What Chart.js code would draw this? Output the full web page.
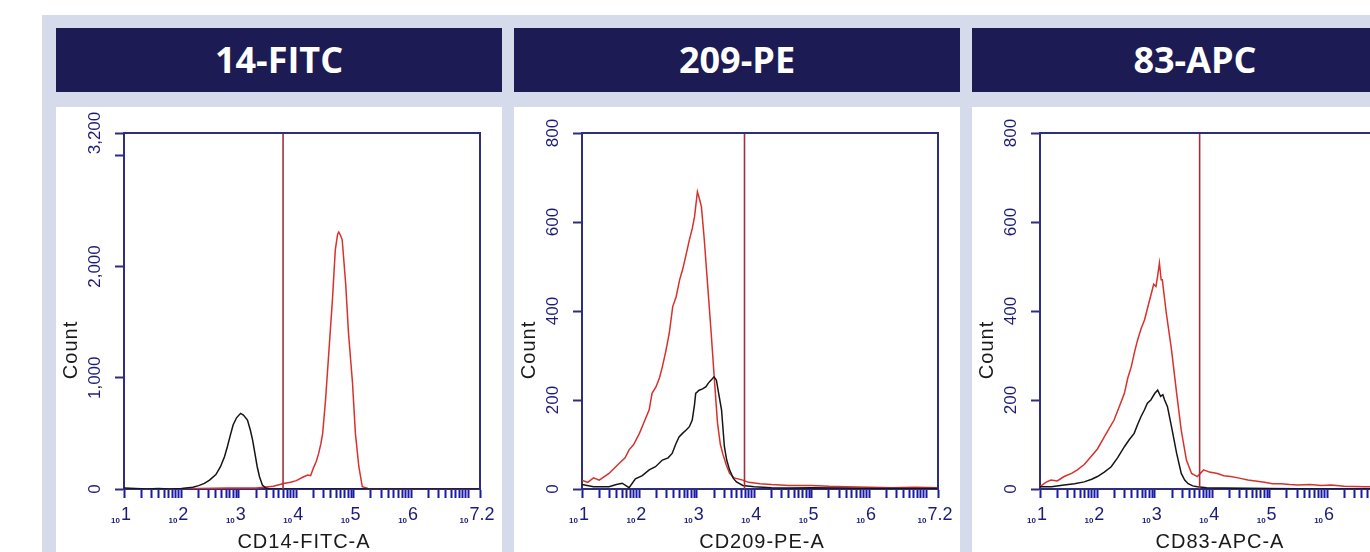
<!DOCTYPE html>
<html lang="en">
<head>
<meta charset="UTF-8">
<title>CD14 / CD209 / CD83 histograms</title>
<script src="https://cdn.jsdelivr.net/npm/chart.js"></script>
<style>
  html, body { margin: 0; padding: 0; width: 1370px; height: 552px; overflow: hidden; background: #fff; }
  .backdrop { position: absolute; left: 42px; top: 15px; width: 1400px; height: 540px; background: #d5dbea; }
  .header { position: absolute; top: 28px; height: 64px; width: 446px; background: #1d1b54; color: #fff;
            font: bold 36px "Open Sans", sans-serif; text-align: center; line-height: 64px; }
  .panel { position: absolute; top: 107px; width: 446px; height: 445px; background: #fff; }
  canvas { display: block; }
</style>
</head>
<body>
<div class="backdrop"></div>

<div class="header" style="left:56px">14-FITC</div>
<div class="header" style="left:514px">209-PE</div>
<div class="header" style="left:972px">83-APC</div>

<div class="panel" style="left:56px"><canvas id="cd14" width="446" height="445"></canvas></div>
<div class="panel" style="left:514px"><canvas id="cd209" width="446" height="445"></canvas></div>
<div class="panel" style="left:972px"><canvas id="cd83" width="446" height="445"></canvas></div>

<script>
// x is in decades (10^x), y is event count
const decadeTicks = [1, 2, 3, 4, 5, 6, 7.2];
const decadeLabels = ['1', '2', '3', '4', '5', '6', '7.2'];

// CD14-FITC
const cd14IsoX = [1.0, 1.2, 1.4, 1.6, 1.8, 2.0, 2.2, 2.3, 2.4, 2.49, 2.6, 2.68, 2.75, 2.8, 2.85, 2.9, 2.96, 3.03, 3.08, 3.15, 3.2, 3.24, 3.28, 3.32, 3.36, 3.41, 3.47, 3.55, 3.7, 4.5, 7.2];
const cd14IsoY = [10, 5, 0, 5, 0, 5, 15, 30, 50, 80, 130, 200, 290, 380, 480, 575, 640, 680, 665, 620, 530, 440, 320, 200, 110, 35, 8, 0, 0, 0, 0];
const cd14StainX = [1.0, 2.0, 2.3, 2.8, 3.3, 3.6, 3.78, 3.9, 4.0, 4.13, 4.2, 4.25, 4.3, 4.35, 4.39, 4.43, 4.46, 4.51, 4.57, 4.63, 4.68, 4.72, 4.74, 4.77, 4.8, 4.86, 4.91, 4.98, 5.03, 5.09, 5.15, 5.25, 5.5, 7.2];
const cd14StainY = [0, 0, 5, 8, 10, 25, 50, 60, 75, 110, 125, 120, 190, 250, 320, 410, 500, 800, 1250, 1700, 2150, 2290, 2310, 2280, 2240, 1850, 1400, 950, 500, 200, 20, 5, 0, 0];
const cd14Gate = 3.77;
const cd14YTicks = [0, 1000, 2000, 3000, 3200];
const cd14YLabels = ['0', '1,000', '2,000', '', '3,200'];

// CD209-PE
const cd209IsoX = [1.0, 1.2, 1.47, 1.6, 1.7, 1.82, 1.93, 2.05, 2.17, 2.28, 2.4, 2.5, 2.57, 2.63, 2.69, 2.75, 2.81, 2.87, 2.92, 2.96, 2.98, 3.04, 3.1, 3.16, 3.2, 3.25, 3.3, 3.34, 3.38, 3.43, 3.48, 3.52, 3.57, 3.63, 3.69, 3.8, 4.0, 4.3, 4.6, 5.0, 5.5, 6.0, 7.2];
const cd209IsoY = [10, 5, 5, 10, 13, 3, 23, 30, 43, 50, 65, 70, 80, 100, 117, 125, 132, 140, 155, 190, 215, 222, 225, 230, 238, 245, 252, 245, 215, 178, 95, 65, 43, 25, 16, 8, 5, 3, 2, 3, 2, 1, 1];
const cd209StainX = [1.0, 1.1, 1.2, 1.3, 1.47, 1.55, 1.65, 1.75, 1.82, 1.9, 2.0, 2.08, 2.17, 2.22, 2.29, 2.35, 2.4, 2.46, 2.52, 2.58, 2.64, 2.7, 2.75, 2.81, 2.87, 2.92, 2.96, 3.01, 3.05, 3.08, 3.13, 3.19, 3.25, 3.31, 3.36, 3.41, 3.45, 3.51, 3.57, 3.65, 3.8, 3.9, 4.1, 4.3, 4.6, 5.0, 5.3, 5.6, 6.0, 6.4, 6.8, 7.2];
const cd209StainY = [20, 15, 25, 20, 35, 45, 58, 70, 88, 100, 125, 150, 178, 215, 230, 250, 275, 310, 350, 410, 432, 470, 492, 525, 560, 585, 612, 668, 650, 634, 560, 455, 350, 238, 148, 100, 80, 55, 35, 25, 20, 15, 12, 10, 8, 8, 6, 5, 4, 3, 4, 3];
const cd209Gate = 3.83;
const smallYTicks = [0, 200, 400, 600, 800];
const smallYLabels = ['0', '200', '400', '600', '800'];

// CD83-APC
const cd83IsoX = [1.0, 1.2, 1.42, 1.6, 1.77, 1.9, 2.0, 2.12, 2.24, 2.35, 2.47, 2.55, 2.64, 2.7, 2.76, 2.82, 2.87, 2.93, 3.0, 3.05, 3.1, 3.14, 3.17, 3.22, 3.29, 3.38, 3.46, 3.52, 3.58, 3.66, 3.74, 3.9, 4.2, 5.0, 6.0, 7.2];
const cd83IsoY = [5, 5, 9, 12, 16, 22, 28, 38, 50, 70, 95, 110, 125, 145, 163, 178, 193, 200, 215, 222, 208, 212, 200, 185, 140, 80, 35, 20, 12, 7, 5, 3, 2, 1, 0, 0];
const cd83StainX = [1.0, 1.1, 1.19, 1.3, 1.42, 1.55, 1.65, 1.77, 1.89, 2.0, 2.12, 2.2, 2.29, 2.38, 2.47, 2.53, 2.59, 2.65, 2.7, 2.76, 2.82, 2.88, 2.94, 2.98, 3.02, 3.05, 3.08, 3.11, 3.13, 3.2, 3.29, 3.38, 3.46, 3.55, 3.64, 3.74, 3.85, 3.95, 4.09, 4.2, 4.32, 4.45, 4.62, 4.75, 4.91, 5.05, 5.2, 5.35, 5.49, 5.7, 5.9, 6.07, 6.3, 6.65, 6.9, 7.2];
const cd83StainY = [5, 15, 20, 18, 28, 35, 43, 55, 73, 90, 117, 135, 155, 185, 215, 250, 275, 310, 335, 360, 380, 410, 440, 460, 455, 480, 508, 470, 470, 395, 313, 215, 132, 65, 35, 28, 43, 38, 35, 30, 28, 25, 20, 18, 15, 12, 12, 10, 9, 10, 8, 9, 6, 5, 5, 4];
const cd83Gate = 3.78;

const FRAME = '#2e2e7c';
const NAVY = '#1c1c78';
const TICK_BLUE = '#1a1aa8';

function pairs(xs, ys) {
    return xs.map((x, i) => ({ x: x, y: ys[i] }));
}

const decorPlugin = {
    id: 'histDecor',
    afterDraw(chart, args, opts) {
        const { ctx, chartArea: a, scales: { x, y } } = chart;
        ctx.save();
        // top and right sides of the frame
        ctx.strokeStyle = FRAME;
        ctx.lineWidth = 2;
        ctx.beginPath();
        ctx.moveTo(a.left, a.top);
        ctx.lineTo(a.right, a.top);
        ctx.lineTo(a.right, a.bottom);
        ctx.stroke();

        // rotated count labels
        ctx.fillStyle = NAVY;
        ctx.font = '17px "Liberation Sans", Arial, sans-serif';
        ctx.textAlign = 'center';
        ctx.textBaseline = 'middle';
        opts.yTicks.forEach((v, i) => {
            const t = opts.yLabels[i];
            if (!t) return;
            ctx.save();
            ctx.translate(39, y.getPixelForValue(v));
            ctx.rotate(-Math.PI / 2);
            ctx.fillText(t, 0, 0);
            ctx.restore();
        });

        // decade labels: small "10" followed by a big exponent
        ctx.textAlign = 'left';
        ctx.textBaseline = 'alphabetic';
        decadeTicks.forEach((v, i) => {
            const px = x.getPixelForValue(v);
            ctx.font = 'bold 8px "Liberation Sans", Arial, sans-serif';
            const w10 = ctx.measureText('10').width;
            ctx.font = '18px "Liberation Sans", Arial, sans-serif';
            const wExp = ctx.measureText(decadeLabels[i]).width;
            const start = px - 3 - (w10 + 1 + wExp) / 2;
            ctx.font = 'bold 8px "Liberation Sans", Arial, sans-serif';
            ctx.fillText('10', start, 416);
            ctx.font = '18px "Liberation Sans", Arial, sans-serif';
            ctx.fillText(decadeLabels[i], start + w10 + 1, 413);
        });

        // axis titles
        ctx.fillStyle = '#1a1a1a';
        ctx.font = '20px "Liberation Sans", Arial, sans-serif';
        ctx.textAlign = 'center';
        ctx.letterSpacing = '1px';
        ctx.fillText(opts.xTitle, (a.left + a.right) / 2 + 2, 441);
        ctx.save();
        ctx.translate(15, 243);
        ctx.rotate(-Math.PI / 2);
        ctx.textBaseline = 'middle';
        ctx.fillText('Count', 0, 0);
        ctx.restore();
        ctx.letterSpacing = '0px';
        ctx.restore();
    }
};

function makeHistogram(id, cfg) {
    const yMax = cfg.yTicks[cfg.yTicks.length - 1];
    new Chart(document.getElementById(id), {
        type: 'line',
        data: {
            datasets: [
                {
                    data: [{ x: cfg.gate, y: 0 }, { x: cfg.gate, y: yMax }],
                    borderColor: '#a0303a', borderWidth: 1.6, pointRadius: 0
                },
                {
                    data: pairs(cfg.isoX, cfg.isoY),
                    borderColor: '#151515', borderWidth: 1.5, pointRadius: 0
                },
                {
                    data: pairs(cfg.stainX, cfg.stainY),
                    borderColor: '#d8312c', borderWidth: 1.5, pointRadius: 0
                }
            ]
        },
        options: {
            responsive: false,
            animation: false,
            events: [],
            layout: { padding: { top: 26, right: 22, left: 0, bottom: 0 } },
            plugins: {
                legend: { display: false },
                tooltip: { enabled: false },
                histDecor: { yTicks: cfg.yTicks, yLabels: cfg.yLabels, xTitle: cfg.xTitle }
            },
            scales: {
                x: {
                    type: 'linear', min: 1, max: 7.2,
                    afterBuildTicks: (scale) => {
                        const ticks = [];
                        for (let d = 1; d <= 7; d++) {
                            for (let k = 1; k <= 9; k++) {
                                const v = d + Math.log10(k);
                                if (v <= 7.2001) ticks.push({ value: v });
                            }
                        }
                        ticks.push({ value: 7.2 });
                        scale.ticks = ticks;
                    },
                    afterFit: (scale) => { scale.height = 63; },
                    ticks: { display: false },
                    grid: { drawOnChartArea: false, drawTicks: true, tickLength: 9, tickColor: TICK_BLUE, tickWidth: 2 },
                    border: { color: FRAME, width: 2 }
                },
                y: {
                    type: 'linear', min: 0, max: yMax,
                    afterBuildTicks: (scale) => { scale.ticks = cfg.yTicks.map(v => ({ value: v })); },
                    afterFit: (scale) => { scale.width = 68; },
                    ticks: { display: false },
                    grid: { drawOnChartArea: false, drawTicks: true, tickLength: 9, tickColor: FRAME, tickWidth: 2 },
                    border: { color: FRAME, width: 2 }
                }
            }
        },
        plugins: [decorPlugin]
    });
}

makeHistogram('cd14', {
    isoX: cd14IsoX, isoY: cd14IsoY, stainX: cd14StainX, stainY: cd14StainY,
    gate: cd14Gate, yTicks: cd14YTicks, yLabels: cd14YLabels, xTitle: 'CD14-FITC-A'
});
makeHistogram('cd209', {
    isoX: cd209IsoX, isoY: cd209IsoY, stainX: cd209StainX, stainY: cd209StainY,
    gate: cd209Gate, yTicks: smallYTicks, yLabels: smallYLabels, xTitle: 'CD209-PE-A'
});
makeHistogram('cd83', {
    isoX: cd83IsoX, isoY: cd83IsoY, stainX: cd83StainX, stainY: cd83StainY,
    gate: cd83Gate, yTicks: smallYTicks, yLabels: smallYLabels, xTitle: 'CD83-APC-A'
});
</script>
</body>
</html>
